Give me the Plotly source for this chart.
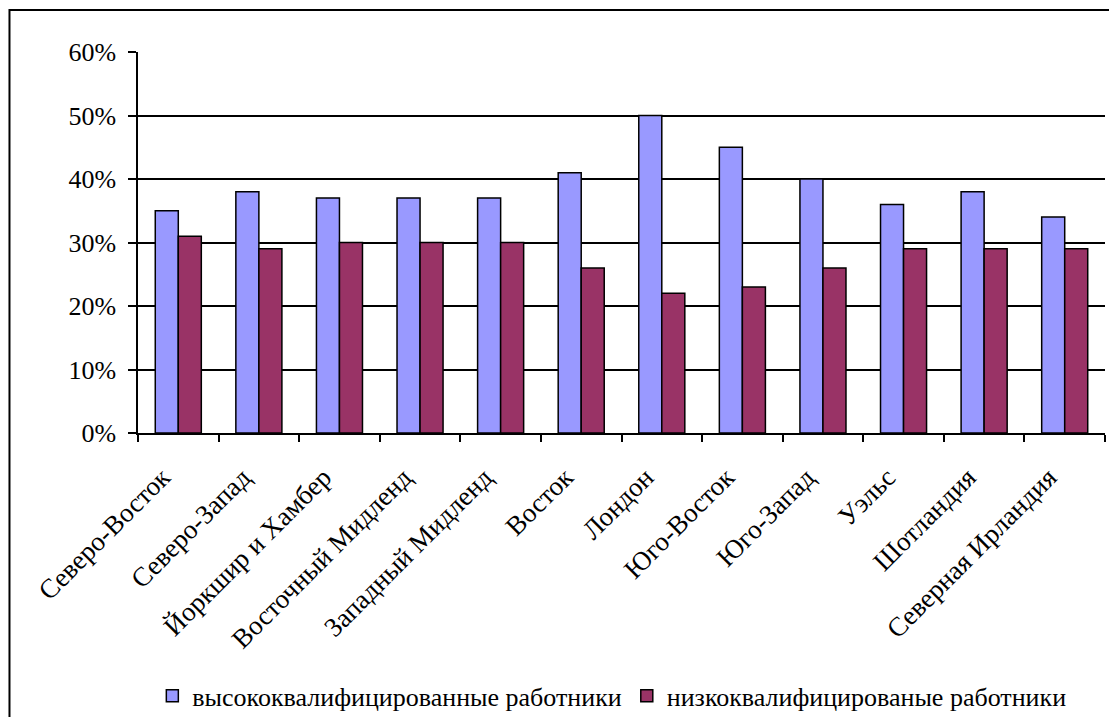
import plotly.graph_objects as go

regions = ["Северо-Восток", "Северо-Запад", "Йоркшир и Хамбер", "Восточный Мидленд",
           "Западный Мидленд", "Восток", "Лондон", "Юго-Восток", "Юго-Запад",
           "Уэльс", "Шотландия", "Северная Ирландия"]
high_skilled = [0.35, 0.38, 0.37, 0.37, 0.37, 0.41, 0.50, 0.45, 0.40, 0.36, 0.38, 0.34]
low_skilled = [0.31, 0.29, 0.30, 0.30, 0.30, 0.26, 0.22, 0.23, 0.26, 0.29, 0.29, 0.29]
series_names = ["высококвалифицированные работники", "низкоквалифицированые работники"]
y_ticks = [0, 0.1, 0.2, 0.3, 0.4, 0.5, 0.6]
y_tick_labels = ["0%", "10%", "20%", "30%", "40%", "50%", "60%"]

FONT = "Liberation Serif"

fig = go.Figure()
fig.add_trace(go.Bar(x=regions, y=high_skilled, name=series_names[0],
                     marker=dict(color="#9999FF", line=dict(color="black", width=1.5))))
fig.add_trace(go.Bar(x=regions, y=low_skilled, name=series_names[1],
                     marker=dict(color="#993366", line=dict(color="black", width=1.5))))

fig.update_layout(
    width=1109, height=717,
    margin=dict(l=138, r=4, t=52, b=284, autoexpand=False),
    paper_bgcolor="white", plot_bgcolor="white",
    barmode="group", bargap=0.4286, bargroupgap=0,
    font=dict(family=FONT, size=26, color="black"),
    showlegend=True,
    legend=dict(orientation="h", x=0.49, xanchor="center", y=-0.69, yanchor="middle",
                font=dict(family=FONT, size=26), itemwidth=30, tracegroupgap=0,
                bgcolor="rgba(0,0,0,0)"),
)
fig.update_xaxes(
    type="category", showline=True, linecolor="black", linewidth=1.5,
    ticks="outside", tickson="boundaries", ticklen=7, tickcolor="black", tickwidth=1.5,
    tickangle=-45, tickfont=dict(family=FONT, size=27), showgrid=False,
    ticklabelstandoff=16, ticklabelshift=-16, automargin=False,
)
fig.update_yaxes(
    range=[0, 0.6], tickvals=y_ticks, ticktext=y_tick_labels,
    showline=True, linecolor="black", linewidth=1.5,
    ticks="outside", ticklen=8, tickcolor="black", tickwidth=1.5,
    showgrid=True, gridcolor="black", gridwidth=1.5, zeroline=False,
    tickfont=dict(family=FONT, size=26), ticklabelstandoff=7, automargin=False,
)
# outer chart border
fig.add_shape(type="rect", xref="paper", yref="paper",
              x0=-0.1329, x1=1.03, y0=-0.80, y1=1.11,
              line=dict(color="black", width=2), fillcolor="rgba(0,0,0,0)", layer="below")

fig.write_html("out.html", config={"displayModeBar": False},
               post_script="document.body.style.margin='0px';document.body.style.overflow='hidden';")
